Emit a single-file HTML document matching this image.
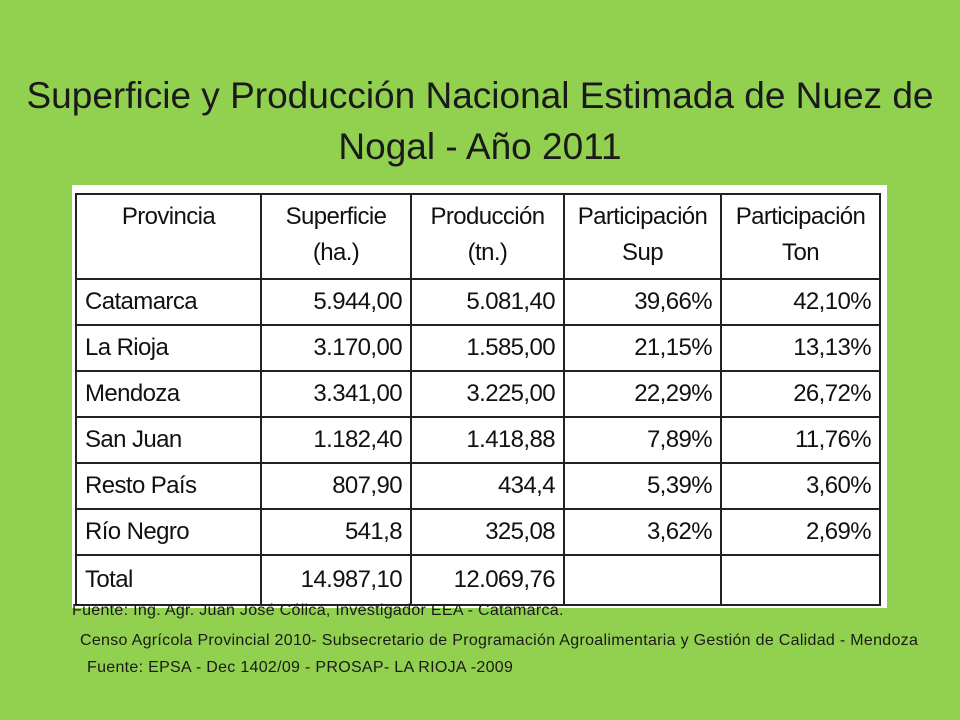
<!DOCTYPE html>
<html><head><meta charset="utf-8"><style>
body{margin:0;width:960px;height:720px;background:#92D050;position:relative;overflow:hidden;font-family:"Liberation Sans",sans-serif}
#title{position:absolute;left:0;top:70px;width:960px;text-align:center;font-size:37px;line-height:51px;color:#1a1a1a}
#panel{position:absolute;left:72px;top:185px;width:815px;height:423px;background:#fff}
table{position:absolute;left:75px;top:193px;width:806px;table-layout:fixed;border-collapse:collapse;font-size:24px;letter-spacing:-0.6px;color:#111}
td{border:2px solid #222;padding:0 8px;height:44px;text-align:right;white-space:nowrap;overflow:hidden}
td:first-child{text-align:left}
th{border:2px solid #222;font-weight:normal;height:78px;line-height:36px;text-align:center;vertical-align:top;padding-top:4px;white-space:nowrap}
.src{position:absolute;font-size:16px;letter-spacing:0.3px;color:#1a1a1a;white-space:nowrap}
</style></head><body>
<div id="title">Superficie y Producción Nacional Estimada de Nuez de<br>Nogal - Año 2011</div>
<div id="panel"></div>
<table>
<colgroup><col style="width:185px"><col style="width:150px"><col style="width:153px"><col style="width:157px"><col style="width:159px"></colgroup>
<tr><th>Provincia</th><th>Superficie<br>(ha.)</th><th>Producción<br>(tn.)</th><th>Participación<br>Sup</th><th>Participación<br>Ton</th></tr>
<tr><td>Catamarca</td><td>5.944,00</td><td>5.081,40</td><td>39,66%</td><td>42,10%</td></tr>
<tr><td>La Rioja</td><td>3.170,00</td><td>1.585,00</td><td>21,15%</td><td>13,13%</td></tr>
<tr><td>Mendoza</td><td>3.341,00</td><td>3.225,00</td><td>22,29%</td><td>26,72%</td></tr>
<tr><td>San Juan</td><td>1.182,40</td><td>1.418,88</td><td>7,89%</td><td>11,76%</td></tr>
<tr><td>Resto País</td><td>807,90</td><td>434,4</td><td>5,39%</td><td>3,60%</td></tr>
<tr><td>Río Negro</td><td>541,8</td><td>325,08</td><td>3,62%</td><td>2,69%</td></tr>
<tr><td style="height:48px">Total</td><td>14.987,10</td><td>12.069,76</td><td></td><td></td></tr>
</table>
<div class="src" style="left:72px;top:602px">Fuente: Ing. Agr. Juan José Cólica, Investigador EEA - Catamarca.</div>
<div class="src" style="left:80px;top:632px">Censo Agrícola Provincial 2010- Subsecretario de Programación Agroalimentaria y Gestión de Calidad - Mendoza</div>
<div class="src" style="left:87px;top:659px">Fuente: EPSA - Dec 1402/09 - PROSAP- LA RIOJA -2009</div>
</body></html>
